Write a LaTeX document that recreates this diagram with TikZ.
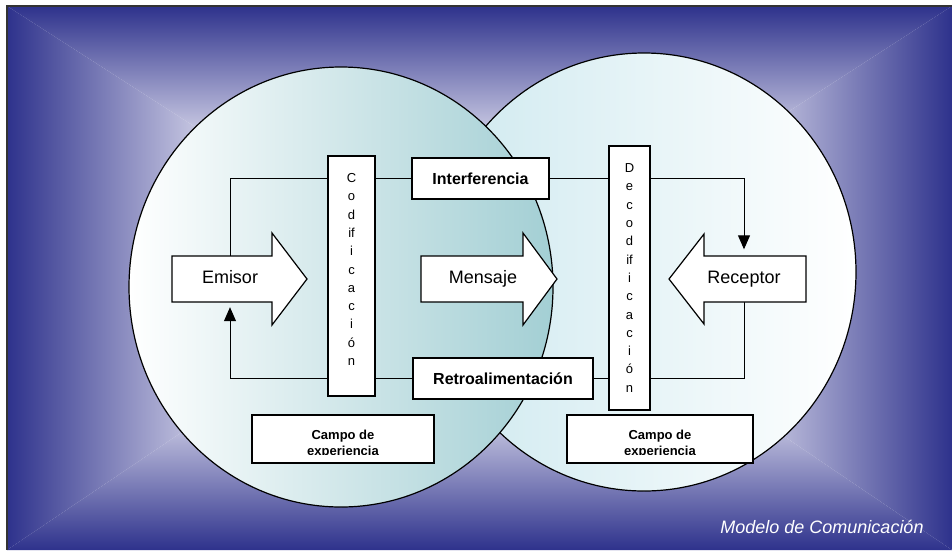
\documentclass[tikz,border=0pt]{standalone}
\usepackage{fontspec}
\setmainfont{Liberation Sans}
\usetikzlibrary{arrows.meta}

\definecolor{azul}{RGB}{46,50,140}
\definecolor{lila}{RGB}{200,200,226}
\definecolor{verdeagua}{RGB}{163,207,212}
\definecolor{celeste}{RGB}{206,233,239}

\pgfdeclarelayer{fondo}
\pgfdeclarelayer{lineas}
\pgfsetlayers{fondo,lineas,main}

\begin{document}
\begin{tikzpicture}[x=1pt, y=-1pt,
  caja/.style={draw, line width=1.2pt, fill=white, inner sep=0pt},
  letrero/.style={inner sep=0pt, minimum height=46pt, text height=12pt,
                  text depth=3.6pt, font=\fontsize{18}{20}\selectfont},
  vertical/.style={caja, align=center, font=\fontsize{13}{18.3}\selectfont},
  titulo/.style={caja, font=\fontsize{16}{18}\selectfont\bfseries},
  campo/.style={inner sep=0pt, font=\fontsize{13}{14}\selectfont\bfseries},
  flecha/.style={draw, line width=1.2pt, fill=white, line join=miter},
  linea/.style={line width=1pt},
  punta/.style={linea, -{Triangle[length=14pt,width=12pt]}},
]
  \useasboundingbox (0,0) rectangle (952,550);

  % Fondo
  \begin{pgfonlayer}{fondo}
    \fill[white] (0,0) rectangle (952,550);
    \fill[lila] (200,130) rectangle (760,420);
    \shade[top color=azul, bottom color=lila]
      (7,6) -- (952,6) -- (760,130) -- (200,130) -- cycle;
    \shade[top color=lila, bottom color=azul]
      (200,420) -- (760,420) -- (952,550) -- (7,550) -- cycle;
    \shade[left color=azul, right color=lila]
      (7,6) -- (200,130) -- (200,420) -- (7,550) -- cycle;
    \shade[left color=lila, right color=azul]
      (760,130) -- (952,6) -- (952,550) -- (760,420) -- cycle;
    \draw[line width=1.5pt, black!80] (7,550) -- (7,6) -- (952,6);

    % Campos (circulos)
    \shade[left color=celeste, right color=white, draw=black, line width=1.2pt]
      (644,272) ellipse [x radius=212pt, y radius=219pt];
    \shade[left color=white, right color=verdeagua, draw=black, line width=1.2pt]
      (341,287) ellipse [x radius=212pt, y radius=220pt];
  \end{pgfonlayer}

  % Flechas grandes
  \draw[flecha] (172,256) -- (272,256) -- (272,233) -- (307,279)
    -- (272,325) -- (272,302) -- (172,302) -- cycle;
  \draw[flecha] (421,256) -- (523,256) -- (523,233) -- (557,279)
    -- (523,325) -- (523,302) -- (421,302) -- cycle;
  \draw[flecha] (806,256) -- (704,256) -- (704,234) -- (669,279)
    -- (704,324) -- (704,302) -- (806,302) -- cycle;
  \node[letrero] (emisor)   at (230,279) {Emisor};
  \node[letrero] (mensaje)  at (483,279) {Mensaje};
  \node[letrero] (receptor) at (744,279) {Receptor};

  % Cajas
  \node[vertical, minimum width=47pt, minimum height=240pt, text depth=13pt]
    (codif) at (351.5,276) {C\\o\\d\\if\\i\\c\\a\\c\\i\\ó\\n};
  \node[vertical, minimum width=41pt, minimum height=264pt]
    (decodif) at (629.5,278) {D\\e\\c\\o\\d\\if\\i\\c\\a\\c\\i\\ó\\n};
  \node[titulo, minimum width=137pt, minimum height=41pt]
    (interf) at (480.5,178.5) {Interferencia};
  \node[titulo, minimum width=180pt, minimum height=41pt]
    (retro) at (503,378.5) {Retroalimentación};

  \node[caja, minimum width=182pt, minimum height=48pt] (campoE) at (343,439) {};
  \node[caja, minimum width=186pt, minimum height=48pt] (campoR) at (660,439) {};
  \begin{scope}
    \clip (campoE.north west) rectangle ([yshift=9.5pt]campoE.south east);
    \node[campo, anchor=base] (campoE1) at (343,439) {Campo de};
    \node[campo, anchor=base] (campoE2) at (343,455.5) {experiencia};
  \end{scope}
  \begin{scope}
    \clip (campoR.north west) rectangle ([yshift=9.5pt]campoR.south east);
    \node[campo, anchor=base] (campoR1) at (660,439) {Campo de};
    \node[campo, anchor=base] (campoR2) at (660,455.5) {experiencia};
  \end{scope}

  \node[anchor=base, text=white, font=\fontsize{18}{20}\selectfont\itshape]
    (modelo) at (822,533) {Modelo de Comunicación};

  % Conectores
  \begin{pgfonlayer}{lineas}
    \draw[linea] (emisor.north) |- (interf.west);
    \draw[punta] (interf.east) -| ([yshift=6.5pt]receptor.north);
    \draw[linea] (receptor.south) |- (retro.east);
    \draw[punta] (retro.west) -| ([yshift=-5pt]emisor.south);
  \end{pgfonlayer}
\end{tikzpicture}
\end{document}
